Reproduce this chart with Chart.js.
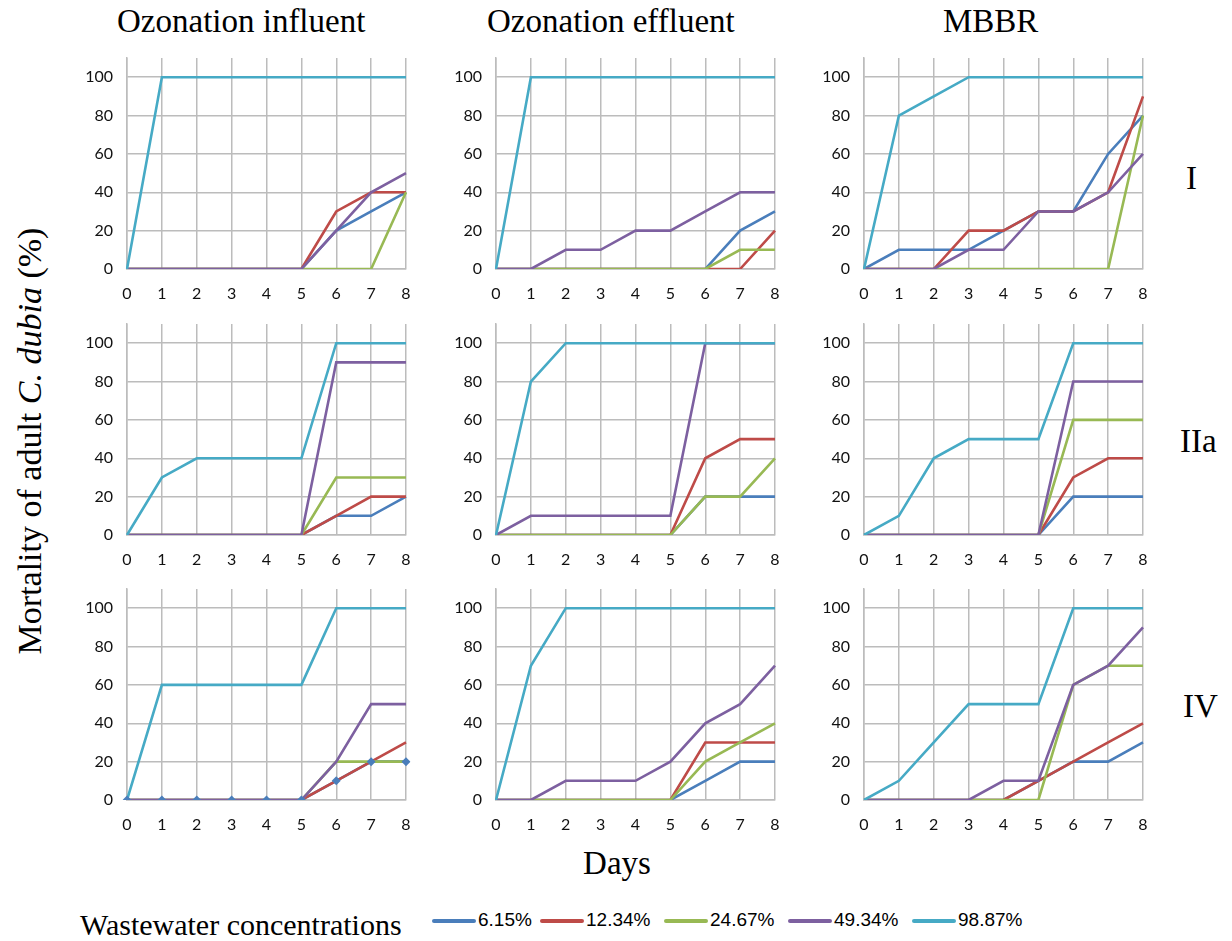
<!DOCTYPE html>
<html>
<head>
<meta charset="utf-8">
<script src="https://cdn.jsdelivr.net/npm/chart.js@4/dist/chart.umd.min.js"></script>
<style>
  body { margin: 0; background: #fff; width: 1232px; height: 941px; position: relative; overflow: hidden; }
  .lbl { position: absolute; font-family: "Liberation Serif", "DejaVu Serif", serif; color: #000; white-space: nowrap; }
  canvas { position: absolute; }
  .leg { position: absolute; top: 909px; font-family: "Liberation Sans Narrow", "Liberation Sans", sans-serif; font-size: 19px; color: #000; }
  .leg span.line { display: inline-block; width: 44px; height: 4px; border-radius: 2px; vertical-align: middle; margin-right: 2px; }
</style>
</head>
<body>
<div class="lbl" style="left:117px;top:3px;font-size:33px;">Ozonation influent</div>
<div class="lbl" style="left:487px;top:3px;font-size:33px;">Ozonation effluent</div>
<div class="lbl" style="left:943px;top:3px;font-size:33px;">MBBR</div>
<div class="lbl" style="left:1186px;top:160px;font-size:33px;">I</div>
<div class="lbl" style="left:1180px;top:423px;font-size:33px;">IIa</div>
<div class="lbl" style="left:1183px;top:688px;font-size:33px;">IV</div>
<div class="lbl" style="left:617px;top:845px;font-size:33px;transform:translateX(-50%);">Days</div>
<div class="lbl" style="left:30px;top:441px;font-size:34px;transform:translate(-50%,-50%) rotate(-90deg);">Mortality of adult <i>C. dubia</i> (%)</div>
<div class="lbl" style="left:80px;top:908px;font-size:30px;">Wastewater concentrations</div>
<div id="legend"></div>

<script>
const days = ["0", "1", "2", "3", "4", "5", "6", "7", "8"];
const concentrations = ["6.15%", "12.34%", "24.67%", "49.34%", "98.87%"];
const colors = ["#4a7ebb", "#be4b48", "#98b954", "#7d60a0", "#46aac5"];
const yTicksMax = 110;

// rows: I, IIa, IV ; each panel holds one series per concentration
const influentI = [
  [0, 0, 0, 0, 0, 0, 20, 30, 40],
  [0, 0, 0, 0, 0, 0, 30, 40, 40],
  [0, 0, 0, 0, 0, 0, 0, 0, 40],
  [0, 0, 0, 0, 0, 0, 20, 40, 50],
  [0, 100, 100, 100, 100, 100, 100, 100, 100],
];
const effluentI = [
  [0, 0, 0, 0, 0, 0, 0, 20, 30],
  [0, 0, 0, 0, 0, 0, 0, 0, 20],
  [0, 0, 0, 0, 0, 0, 0, 10, 10],
  [0, 0, 10, 10, 20, 20, 30, 40, 40],
  [0, 100, 100, 100, 100, 100, 100, 100, 100],
];
const mbbrI = [
  [0, 10, 10, 10, 20, 30, 30, 60, 80],
  [0, 0, 0, 20, 20, 30, 30, 40, 90],
  [0, 0, 0, 0, 0, 0, 0, 0, 80],
  [0, 0, 0, 10, 10, 30, 30, 40, 60],
  [0, 80, 90, 100, 100, 100, 100, 100, 100],
];
const influentIIa = [
  [0, 0, 0, 0, 0, 0, 10, 10, 20],
  [0, 0, 0, 0, 0, 0, 10, 20, 20],
  [0, 0, 0, 0, 0, 0, 30, 30, 30],
  [0, 0, 0, 0, 0, 0, 90, 90, 90],
  [0, 30, 40, 40, 40, 40, 100, 100, 100],
];
const effluentIIa = [
  [0, 0, 0, 0, 0, 0, 20, 20, 20],
  [0, 0, 0, 0, 0, 0, 40, 50, 50],
  [0, 0, 0, 0, 0, 0, 20, 20, 40],
  [0, 10, 10, 10, 10, 10, 100, 100, 100],
  [0, 80, 100, 100, 100, 100, 100, 100, 100],
];
const mbbrIIa = [
  [0, 0, 0, 0, 0, 0, 20, 20, 20],
  [0, 0, 0, 0, 0, 0, 30, 40, 40],
  [0, 0, 0, 0, 0, 0, 60, 60, 60],
  [0, 0, 0, 0, 0, 0, 80, 80, 80],
  [0, 10, 40, 50, 50, 50, 100, 100, 100],
];
const influentIV = [
  [0, 0, 0, 0, 0, 0, 10, 20, 20],
  [0, 0, 0, 0, 0, 0, 10, 20, 30],
  [0, 0, 0, 0, 0, 0, 20, 20, 20],
  [0, 0, 0, 0, 0, 0, 20, 50, 50],
  [0, 60, 60, 60, 60, 60, 100, 100, 100],
];
const effluentIV = [
  [0, 0, 0, 0, 0, 0, 10, 20, 20],
  [0, 0, 0, 0, 0, 0, 30, 30, 30],
  [0, 0, 0, 0, 0, 0, 20, 30, 40],
  [0, 0, 10, 10, 10, 20, 40, 50, 70],
  [0, 70, 100, 100, 100, 100, 100, 100, 100],
];
const mbbrIV = [
  [0, 0, 0, 0, 0, 10, 20, 20, 30],
  [0, 0, 0, 0, 0, 10, 20, 30, 40],
  [0, 0, 0, 0, 0, 0, 60, 70, 70],
  [0, 0, 0, 0, 10, 10, 60, 70, 90],
  [0, 10, 30, 50, 50, 50, 100, 100, 100],
];

const panels = [
  [influentI, effluentI, mbbrI],
  [influentIIa, effluentIIa, mbbrIIa],
  [influentIV, effluentIV, mbbrIV],
];

// plot area geometry
const plotLeft = [127, 496, 864];
const plotWidth = 279;
const zeroLine = [269, 535, 800];
const plotHeight = 211;
const yAxisW = 50, xAxisH = 38, padTop = 6, padRight = 10;

const gridColor = "#bcbcbc";
const tickFont = { family: "Lato, 'Open Sans', sans-serif", size: 16 };

panels.forEach((row, r) => {
  row.forEach((series, c) => {
    const canvas = document.createElement("canvas");
    const w = yAxisW + plotWidth + padRight;
    const h = padTop + plotHeight + xAxisH;
    canvas.width = w;
    canvas.height = h;
    canvas.style.left = (plotLeft[c] - yAxisW) + "px";
    canvas.style.top = (zeroLine[r] - plotHeight - padTop) + "px";
    document.body.appendChild(canvas);

    const datasets = series.map((vals, i) => ({
      label: concentrations[i],
      data: vals,
      borderColor: colors[i],
      backgroundColor: colors[i],
      borderWidth: 2.6,
      pointRadius: 0,
      tension: 0,
      order: 10 - i,
    }));

    // the lowest concentration in influent IV is plotted with diamond markers
    if (r === 2 && c === 0) {
      datasets.push({
        label: concentrations[0] + " markers",
        data: series[0],
        showLine: false,
        pointStyle: "rectRot",
        pointRadius: 4.5,
        pointBorderWidth: 0,
        backgroundColor: colors[0],
        borderColor: colors[0],
        order: 0,
      });
    }

    new Chart(canvas, {
      type: "line",
      data: { labels: days, datasets: datasets },
      options: {
        responsive: false,
        animation: false,
        devicePixelRatio: 1,
        layout: { padding: { top: padTop, right: padRight, left: 0, bottom: 0 } },
        plugins: { legend: { display: false }, tooltip: { enabled: false } },
        scales: {
          x: {
            offset: false,
            grid: { color: gridColor, lineWidth: 1.5, offset: false, drawTicks: false },
            border: { color: gridColor, width: 1.5 },
            ticks: { font: tickFont, color: "#111", padding: 15, maxRotation: 0, autoSkip: false },
            afterFit: (s) => { s.height = xAxisH; s.paddingLeft = 0; s.paddingRight = 0; },
          },
          y: {
            min: 0,
            max: yTicksMax,
            grid: { color: gridColor, lineWidth: 1.5, drawTicks: false },
            border: { color: gridColor, width: 1.5 },
            ticks: { stepSize: 20, includeBounds: false, font: tickFont, color: "#111", padding: 14 },
            afterFit: (s) => { s.width = yAxisW; s.paddingTop = 0; s.paddingBottom = 0; },
          },
        },
      },
    });
  });
});

// shared legend
const legend = document.getElementById("legend");
const legendX = [432, 540, 664, 788, 912];
concentrations.forEach((name, i) => {
  const d = document.createElement("div");
  d.className = "leg";
  d.style.left = legendX[i] + "px";
  d.innerHTML = `<span class="line" style="background:${colors[i]}"></span>${name}`;
  legend.appendChild(d);
});
</script>
</body>
</html>
